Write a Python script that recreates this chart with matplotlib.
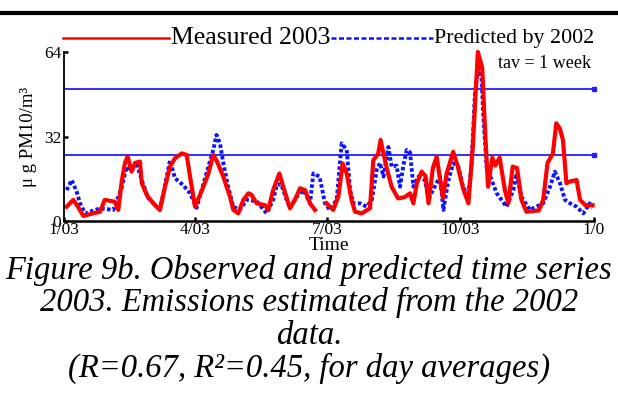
import numpy as np
import matplotlib
matplotlib.use('Agg')
from matplotlib import pyplot as plt
from matplotlib.lines import Line2D

plt.rcParams['font.family'] = ['Liberation Serif', 'DejaVu Serif']

# measured 2003 (weekly running mean), day of year -> ug/m3, nan = missing data
meas_day = [1.8, 6.4, 9.6, 13.3, 20, 24.8, 28, 35, 37.4, 39.7, 42, 43.8, 46.6, 48.9, 52.3, 53.5,
            57, 61.5, 66, 69.6, 73, 76.4, 81, 84.5, 86.8, 90.2, 96, 99.4, 102.8, 105, 109.7,
            114.3, 116.6, 120, 123.5, 127, 129, 132.7, 138.4, 140.7, 144, 148.3, 151, 155.6,
            159, 162.5, 166, 169.4, 172.8, 176, 180.8, 185.4, 188.9, 191.9, 194.7, 198, 200.4,
            205, 210.7, 213, 216.4, 218, 220, 222, 225.6, 230, 234.5, 238.3, 240.6, 243, 246.3,
            249, 251, 254, 256.6, 261, 263.5, 268, 271, 275, 278.5, 281.5, 285, 288, 290, 292,
            295, 297, 300, 303.6, 306, 309, 312, 315, 318.5, 327, 330, 333, 336.7, 339, 341.5,
            343.6, 346, 348.5, 353, 355.4, 359, 364]
meas_val = [5.4, 8.0, 5.4, 1.9, 2.9, 3.5, 8, 7.3, 4.2, 14.9, 22, 24.4, 18.7, 22, 22.5, 14.4,
            9.8, 6.7, 4.2, 13, 20.6, 23.7, 25.6, 25, 16.8, 5.4, 13, 18, 25, 23, 16.8,
            9.2, 4.2, 2.9, 8, 10.5, 10, 6.7, 6, 4.2, 11.7, 18, 13, 4.8,
            8, 12.4, 11.7, 6.7, 4.2, np.nan, 6.7, 4.2, 9.2, 21.8, 18, 8, 3.5,
            2.9, 4.8, 23, 25.6, 30.7, 25.6, 20.6, 13, 8.6, 9, 10.5, 6.7, 14.3, 18.7,
            17, 6.7, 20, 24.4, 8.6, 18, 26.2, 21, 12, 6.7, 28, 64, 58, 34, 13,
            24, 21, 24, 11.7, 6.7, 20.6, 20, 8, 3.5, 4, 8, 22, 25.6, 37, 35,
            30.7, 14.3, 15, 15.5, 8, 6, 6]

# predicted from 2002 emissions
pred_day = [1.8, 5.3, 8.7, 11, 14.5, 24.8, 34, 39.7, 43, 45, 50, 53.5, 58, 66, 68.4, 73, 76.4,
            82, 86.8, 91.3, 94.8, 99.4, 102.8, 105, 107.4, 109.7, 113, 116.6, 121, 125.8,
            132.7, 139.5, 144, 146.5, 149.5, 153.3, 155.6, 160.2, 165, 169.4, 171.7, 176,
            179.7, 183, 187.8, 191.2, 194.7, 197, 199.2, 203.8, 208.4, 212, 215.3, 217.6, 220,
            223.4, 225.6, 229, 231.4, 233.7, 236, 238.3, 240.6, 244, 248.6, 251, 254, 258.9,
            261.3, 264.7, 268, 271.5, 274.8, 278.3, 280.6, 283, 285.3, 287.6, 288.8, 291,
            294.5, 298, 301.3, 304.7, 309.4, 311.6, 315, 320.8, 330, 334.7, 338, 341.6, 345,
            348.5, 353, 357.6, 362, 364]
pred_val = [11.7, 15.5, 11.1, 6.7, 2.9, 4.8, 4.2, 12.5, 20.6, 18.7, 22, 15.5, 8.7, 4.2, 10.5, 23, 16.2,
            13.6, 10.5, 5, 11.7, 20.6, 26.9, 32.6, 29.4, 21.9, 13, 5.4, 4.2, 8,
            7.5, 2.9, 8, 13.6, 14, 8, 5, 9.2, 11.7, 6.7, 18, 16.8,
            6.7, 4.2, 8, 29.4, 26.9, 11.7, 6.7, 6.7, 5.4, 8, 19.3, 22, 16.8,
            28, 20.6, 21, 13, 21, 26.9, 26, 13, 16.8, 15.5, 8, 11.7, 16.8,
            4.2, 15.5, 21.8, 20.6, 13, 9.2, 20.6, 48.4, 58.4, 53.4, 39.5, 20.6,
            15.5, 10.5, 8, 5.4, 11.7, 18, 9.2, 4.2, 6.7, 13, 18.7, 14.3, 8,
            6.7, 5.4, 2.9, 6.7, 5]

limits = [50, 25]
tick_days = [0, 90, 181, 273, 365]
tick_labels = ['1/03', '4/03', '7/03', '10/03', '1/0']

caption_lines = ['Figure 9b. Observed and predicted time series',
                 '2003. Emissions estimated from the 2002',
                 'data.',
                 '(R=0.67, R\u00b2=0.45, for day averages)']

fig = plt.figure(figsize=(6.18, 4.05), dpi=100)
ax = fig.add_axes([0.1036, 0.4543, 0.8576, 0.4173])

for lv in limits:
    ax.plot([0, 365], [lv, lv], color='#1f1fff', lw=1.3)
    ax.plot([365], [lv], 's', color='#1f1fff', ms=2.5, clip_on=False)

ax.plot(pred_day, pred_val, color='#0a14ff', lw=2.8, linestyle=(0, (0.9, 0.6)), clip_on=False)
ax.plot(meas_day, meas_val, color='#ff0000', lw=3.0, clip_on=False)

ax.set_xlim(0, 365)
ax.set_ylim(0, 64)
ax.set_yticks([0, 32, 64])
ax.set_xticks(tick_days)
ax.set_xticklabels(tick_labels)
ax.tick_params(direction='in', length=3, width=1.8, labelsize=12.5, pad=1)
ax.tick_params(axis='y', pad=2)
for s in ['top', 'right']:
    ax.spines[s].set_visible(False)
ax.spines['bottom'].set_linewidth(1.8)
ax.spines['left'].set_linewidth(1.3)
ax.set_xlabel('Time', fontsize=14, labelpad=-1)
ax.set_ylabel('\u03bc g PM10/m\u00b3', fontsize=13.5, labelpad=5)
ax.text(0.995, 0.985, 'tav = 1 week', transform=ax.transAxes, ha='right', va='top', fontsize=13)

# legend drawn above the axes
fig.add_artist(Line2D([0.102, 0.274], [0.906, 0.906], color='#ff0000', lw=1.8))
fig.text(0.277, 0.906, 'Measured 2003', fontsize=18.5, va='center', ha='left')
fig.add_artist(Line2D([0.535, 0.700], [0.906, 0.906], color='#0a14ff', lw=1.8, linestyle=(0, (2, 1))))
fig.text(0.703, 0.906, 'Predicted by 2002', fontsize=15.8, va='center', ha='left')

# rule at the top of the page
fig.add_artist(Line2D([0, 1], [0.969, 0.969], color='black', lw=3))

for i, line in enumerate(caption_lines):
    fig.text(0.5, 1 - (270 + 32.7 * i) / 405, line, ha='center', va='center',
             fontsize=23.5, style='italic')

fig.savefig('out.png', dpi=100)
